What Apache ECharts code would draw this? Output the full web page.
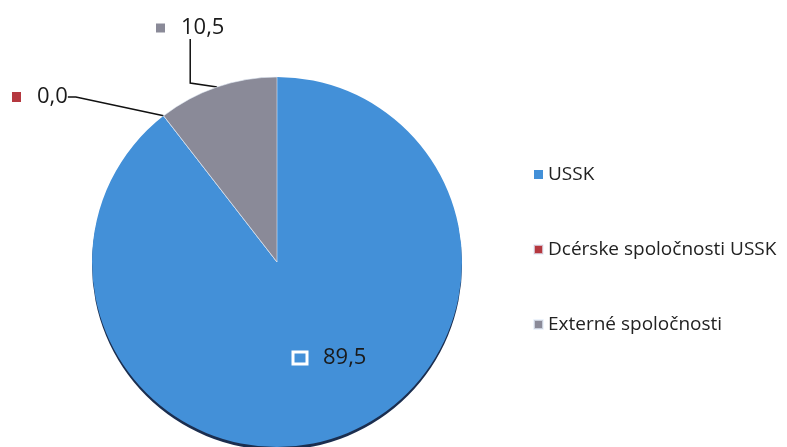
<!DOCTYPE html>
<html><head><meta charset="utf-8">
<script src="https://cdn.jsdelivr.net/npm/echarts@6/dist/echarts.min.js"></script>
<style>html,body{margin:0;padding:0;background:#fff}#c{width:787px;height:447px}</style>
</head><body><div id="c"></div>
<script>
const categories = ['USSK', 'Dcérske spoločnosti USSK', 'Externé spoločnosti'];
const values = [89.5, 0.0, 10.5];
const colors = ['#4390d8', '#b5383f', '#8a8a98'];

const chart = echarts.init(document.getElementById('c'));
const fmt = v => v.toFixed(1).replace('.', ',');
const labelPos = [
  {x: 293, y: 358},
  {x: 12, y: 97},
  {x: 156, y: 28}
];
const rightPad = [0, 0, 46];
const lineLen2 = [0, 8, 44];
chart.setOption({
  animation: false,
  color: colors,
  legend: {
    orient: 'vertical', left: 528, top: 160, itemGap: 56,
    icon: 'rect', itemWidth: 9, itemHeight: 9,
    textStyle: {fontFamily: 'Open Sans', fontSize: 19, color: '#222'},
    data: categories
  },
  series: [{
    type: 'pie',
    center: [277, 262], radius: 185,
    startAngle: 90, clockwise: true,
    itemStyle: {borderColor: 'rgba(230,238,250,0.7)', borderWidth: 0.8},
    label: {
      show: true, position: 'outside',
      fontFamily: 'Open Sans', fontSize: 22, color: '#1a1a1a',
      formatter: p => '{sq' + p.dataIndex + '|}{t' + p.dataIndex + '|' + fmt(p.value) + '}',
      rich: {
        sq0: {width: 14, height: 12, borderColor: '#fff', borderWidth: 1.5, backgroundColor: 'transparent'},
        sq1: {width: 9, height: 10, backgroundColor: colors[1]},
        sq2: {width: 9, height: 9, backgroundColor: colors[2]},
        t0: {fontFamily: 'Open Sans', fontSize: 22, color: '#1a1a1a', padding: [0, rightPad[0], 0, 16]},
        t1: {fontFamily: 'Open Sans', fontSize: 22, color: '#1a1a1a', padding: [0, rightPad[1], 0, 16]},
        t2: {fontFamily: 'Open Sans', fontSize: 22, color: '#1a1a1a', padding: [0, rightPad[2], 0, 16]}
      }
    },
    labelLine: {show: true, lineStyle: {color: '#111', width: 1.5}},
    labelLayout: p => ({x: labelPos[p.dataIndex].x, y: labelPos[p.dataIndex].y, align: 'left', verticalAlign: 'middle'}),
    data: categories.map((c, i) => ({
      name: c, value: values[i],
      labelLine: i === 0 ? {show: false} : {show: true, length2: lineLen2[i]},
      itemStyle: i === 0 ? {borderWidth: 0, shadowColor: 'rgba(15,35,70,0.95)', shadowBlur: 0, shadowOffsetY: 3, shadowOffsetX: 0} : {}
    }))
  }]
});
</script></body></html>
